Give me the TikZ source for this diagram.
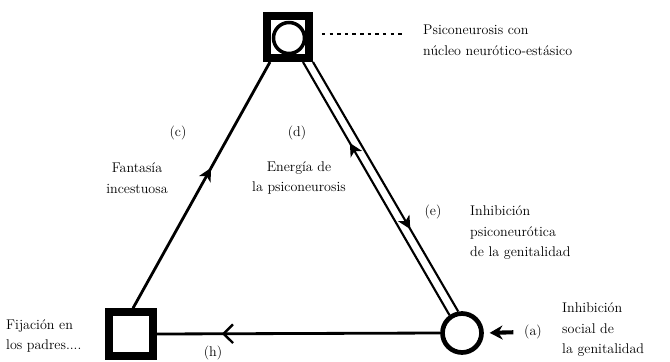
\documentclass[tikz,border=0pt]{standalone}
\usetikzlibrary{arrows.meta,calc,decorations.markings}

\begin{document}
\begin{tikzpicture}[x=0.03cm, y=-0.03cm,
  box/.style={rectangle, draw, line width=6.5pt, minimum size=#1, inner sep=0pt},
  ring/.style={circle, draw, line width=#1, inner sep=0pt},
  edge/.style={line width=2.4pt},
  rail/.style={line width=1.8pt},
  dotline/.style={line width=1.6pt, dash pattern=on 3pt off 3.5pt},
  lbl/.style={font=\fontsize{12}{17.5}\selectfont, inner sep=0pt},
  fwdat/.style={decoration={markings, mark=at position #1 with {\arrow{Stealth[length=11pt, width=11pt, inset=3pt]}}}, postaction={decorate}},
  backat/.style={decoration={markings, mark=at position #1 with {\arrowreversed{Stealth[length=11pt, width=11pt, inset=3pt]}}}, postaction={decorate}},
  barbat/.style={decoration={markings, mark=at position #1 with {\arrowreversed{Straight Barb[length=8pt, width=16pt, line width=2pt]}}}, postaction={decorate}}
]
  \useasboundingbox (0,0) rectangle (670,361);

  % Top box
  \node[box=1.27cm] (topbox) at (288,37) {};
  \node[ring=3pt, minimum size=0.93cm] (topring) at (289,38) {};
  \coordinate (dotend) at (404,34);
  \draw[dotline] ($(topbox.east)+(9,-3)$) -- (dotend);
  \node[lbl, anchor=north west, align=left] (psi) at (423,25) {Psiconeurosis con\\n\'ucleo neur\'otico-est\'asico};

  % Bottom corners
  \node[box=1.32cm] (fixbox) at (131,334) {};
  \node[ring=4pt, minimum size=1.17cm] (circ) at (462,333) {};

  % Triangle sides
  \draw[edge, fwdat=0.57] ($(fixbox.north)+(2,0)$) -- ($(topbox.south)+(-18,0)$);
  \draw[edge, barbat=0.23] (fixbox.east) -- (circ.west);
  \draw[rail, backat=0.32] ($(topbox.south east)+(-10,0)$) -- (circ.125);
  \draw[rail, fwdat=0.67] (topbox.south east) -- (circ.100);

  % Labels
  \node[lbl] (c) at (178,133) {(c)};
  \node[lbl, align=center] (fant) at (137,178) {Fantas\'ia\\incestuosa};
  \node[lbl] (d) at (297,133) {(d)};
  \node[lbl, align=center] (ener) at (299,178) {Energ\'ia de\\la psiconeurosis};
  \node[lbl] (e) at (433,212) {(e)};
  \node[lbl, anchor=west, align=left] (inhpsi) at (470,233) {Inhibici\'on\\psiconeur\'otica\\de la genitalidad};
  \node[lbl, anchor=west, align=left] (fij) at (6,336) {Fijaci\'on en\\los padres....};
  \node[lbl] (h) at (213,353) {(h)};
  \node[lbl] (a) at (533,332) {(a)};
  \node[lbl, anchor=west, align=left] (inhsoc) at (562,330) {Inhibici\'on\\social de\\la genitalidad};
  \draw[-{Stealth[length=11pt, width=12pt]}, line width=3.5pt, shorten <=9pt, shorten >=5pt] (a.west) -- (circ.east);
\end{tikzpicture}
\end{document}
